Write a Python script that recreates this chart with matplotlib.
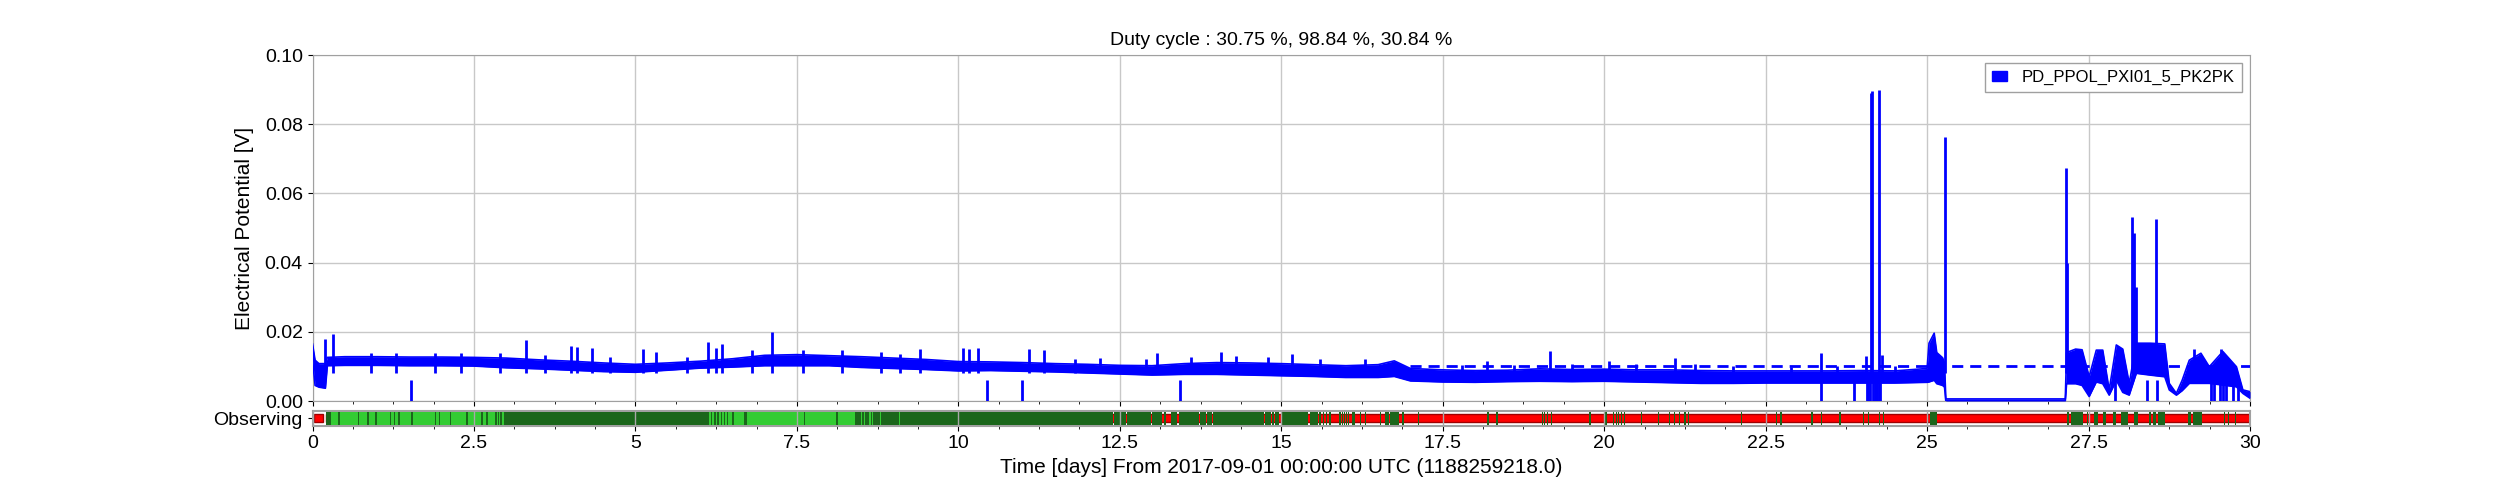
import matplotlib
matplotlib.use("Agg")
import matplotlib.pyplot as plt
from matplotlib.patches import Patch
from matplotlib.ticker import AutoMinorLocator, FuncFormatter

plt.rcParams['font.family'] = ['Liberation Sans', 'DejaVu Sans']

# ---------------- data ----------------
title = "Duty cycle : 30.75 %, 98.84 %, 30.84 %"
series_name = "PD_PPOL_PXI01_5_PK2PK"
xlabel = "Time [days] From 2017-09-01 00:00:00 UTC (1188259218.0)"
ylabel = "Electrical Potential [V]"
seg_label = "Observing"

# envelope of the dense trace (days, min, max)
band_t = [0.00, 0.04, 0.10, 0.20, 0.23, 0.5, 1.0, 1.5, 2.0, 2.5, 3.0, 3.5, 4.0, 4.5,
          5.0, 5.5, 6.0, 6.5, 7.0, 7.5, 8.0, 8.5, 9.0, 9.5, 10.0, 10.5, 11.0, 11.5,
          12.0, 12.5, 13.0, 13.5, 14.0, 14.5, 15.0, 15.5, 16.0, 16.5, 16.75, 17.0,
          17.5, 18.0, 18.5, 19.0, 19.5, 20.0, 20.5, 21.0, 21.5, 22.0, 22.5, 23.0,
          23.5, 24.0, 24.5, 25.0, 25.03, 25.11, 25.15, 25.24, 25.27, 25.29, 27.14,
          27.16, 27.3, 27.4, 27.51, 27.62, 27.72, 27.82, 27.93, 28.03, 28.13, 28.24,
          28.45, 28.68, 28.75, 28.86, 28.95, 29.06, 29.24, 29.37, 29.58, 29.79,
          29.89, 30.0]
band_lo = [0.0120, 0.0045, 0.0040, 0.0037, 0.0102, 0.0103, 0.0103, 0.0102, 0.0102,
           0.0101, 0.0096, 0.0093, 0.0089, 0.0085, 0.0083, 0.0089, 0.0095, 0.0098,
           0.0102, 0.0102, 0.0102, 0.0097, 0.0094, 0.0091, 0.0087, 0.0088, 0.0086,
           0.0084, 0.0081, 0.0078, 0.0075, 0.0077, 0.0077, 0.0075, 0.0073, 0.0071,
           0.0068, 0.0068, 0.0071, 0.0058, 0.0055, 0.0054, 0.0056, 0.0057, 0.0056,
           0.0057, 0.0055, 0.0053, 0.0051, 0.0051, 0.0052, 0.0052, 0.0052, 0.0052,
           0.0052, 0.0054, 0.0055, 0.0060, 0.0050, 0.0045, 0.0040, 0.0000, 0.0000,
           0.0050, 0.0050, 0.0045, 0.0013, 0.0055, 0.0050, 0.0017, 0.0060, 0.0025,
           0.0017, 0.0080, 0.0075, 0.0070, 0.0032, 0.0017, 0.0030, 0.0051, 0.0051,
           0.0051, 0.0046, 0.0041, 0.0022, 0.0008]
band_hi = [0.0165, 0.0118, 0.0108, 0.0108, 0.0126, 0.0128, 0.0128, 0.0127, 0.0127,
           0.0126, 0.0124, 0.0119, 0.0115, 0.0110, 0.0106, 0.0110, 0.0115, 0.0122,
           0.0132, 0.0134, 0.0131, 0.0128, 0.0124, 0.0120, 0.0114, 0.0113, 0.0111,
           0.0108, 0.0106, 0.0103, 0.0102, 0.0108, 0.0111, 0.0110, 0.0108, 0.0105,
           0.0102, 0.0105, 0.0116, 0.0094, 0.0090, 0.0088, 0.0089, 0.0093, 0.0091,
           0.0092, 0.0090, 0.0090, 0.0088, 0.0087, 0.0087, 0.0087, 0.0087, 0.0088,
           0.0087, 0.0094, 0.0167, 0.0196, 0.0140, 0.0125, 0.0110, 0.0006, 0.0006,
           0.0140, 0.0150, 0.0148, 0.0070, 0.0147, 0.0147, 0.0032, 0.0162, 0.0150,
           0.0051, 0.0167, 0.0167, 0.0165, 0.0051, 0.0022, 0.0060, 0.0118, 0.0138,
           0.0099, 0.0143, 0.0099, 0.0032, 0.0027]

# isolated upward glitches (days, peak value)
spike_t = [0.20, 0.31, 3.31, 4.00, 4.10, 4.32, 5.11, 5.32, 6.13, 6.25, 6.34, 7.11,
           9.40, 10.07, 10.17, 10.31, 11.10, 11.32, 13.08, 14.06, 15.16, 18.19,
           19.16, 20.07, 21.09, 23.36, 24.06, 24.13, 24.15, 24.26, 24.30, 25.27,
           27.15, 27.17, 28.18, 28.20, 28.23, 28.55, 29.13, 29.55,
           0.9, 1.3, 1.9, 2.3, 2.9, 3.6, 4.6, 5.8, 6.8, 7.6, 8.2, 8.8, 9.1, 11.8,
           12.2, 12.9, 13.6, 14.3, 14.8, 15.6, 16.3, 17.8, 18.6, 19.5, 20.5, 21.4,
           22.0, 22.9, 23.6, 24.5]
spike_v = [0.0180, 0.0193, 0.0177, 0.0158, 0.0157, 0.0154, 0.0151, 0.0142, 0.0171,
           0.0154, 0.0166, 0.0200, 0.0149, 0.0153, 0.0150, 0.0153, 0.0149, 0.0148,
           0.0139, 0.0142, 0.0137, 0.0117, 0.0145, 0.0115, 0.0124, 0.0140, 0.0130,
           0.0890, 0.0897, 0.0899, 0.0133, 0.0764, 0.0672, 0.0400, 0.0533, 0.0485,
           0.0330, 0.0525, 0.0150, 0.0150,
           0.0140, 0.0138, 0.0139, 0.0138, 0.0138, 0.0134, 0.0126, 0.0128, 0.0146,
           0.0148, 0.0146, 0.0143, 0.0137, 0.0122, 0.0124, 0.0121, 0.0127, 0.0130,
           0.0126, 0.0122, 0.0120, 0.0104, 0.0103, 0.0106, 0.0106, 0.0106, 0.0101,
           0.0099, 0.0100, 0.0101]
spike_base = 0.008

# downward dropouts to zero (days)
drop_t = [1.52, 10.45, 10.99, 13.43, 23.35, 23.87, 24.07, 24.09, 24.11, 24.17,
          24.19, 24.21, 24.23, 24.25, 24.27, 27.91, 28.40, 28.56, 29.40, 29.45,
          29.54, 29.58, 29.63, 29.74, 29.81]
drop_top = 0.006

threshold_value = 0.01
threshold_start = 17.0
threshold_end = 30.0

# state segments (days)
red_segs = [(0.03, 0.17), (0.21, 30.0)]
dark_segs = [(0.21, 12.39), (12.41, 12.59), (12.61, 12.98), (13.00, 13.16),
             (13.18, 13.22), (13.29, 13.39), (13.41, 13.72), (13.74, 13.83),
             (13.85, 13.93), (13.95, 14.73), (14.75, 14.84), (14.86, 14.89),
             (14.91, 14.97), (14.99, 15.42), (15.44, 15.57), (15.59, 15.61),
             (15.64, 15.66), (15.69, 15.71), (15.74, 15.77),
             (15.89, 15.92), (15.94, 15.95), (15.97, 15.98), (16.01, 16.02),
             (16.04, 16.05), (16.09, 16.14), (16.17, 16.18), (16.22, 16.23),
             (16.26, 16.27), (16.29, 16.32), (16.53, 16.55), (16.60, 16.67),
             (16.69, 16.83), (16.87, 16.90), (17.12, 17.14), (18.19, 18.21),
             (18.33, 18.35), (19.03, 19.05), (19.07, 19.09), (19.11, 19.13),
             (19.17, 19.19), (19.77, 19.79), (20.02, 20.04), (20.13, 20.15),
             (20.18, 20.20), (20.21, 20.23), (20.26, 20.28), (20.31, 20.33),
             (20.57, 20.59), (20.83, 20.85), (21.00, 21.02), (21.08, 21.10),
             (21.16, 21.18), (21.24, 21.26), (21.30, 21.32), (22.12, 22.14),
             (22.66, 22.68), (22.73, 22.75), (23.21, 23.23), (23.36, 23.38),
             (23.64, 23.66), (24.00, 24.02), (24.08, 24.10), (24.25, 24.27),
             (24.31, 24.33), (25.05, 25.16), (25.18, 25.19), (25.21, 25.22),
             (25.24, 25.25), (25.27, 25.28), (27.17, 27.19), (27.23, 27.41),
             (27.47, 27.49), (27.59, 27.65), (27.72, 27.77), (27.88, 27.93),
             (28.01, 28.11), (28.20, 28.26), (28.44, 28.46), (28.50, 28.55),
             (28.57, 28.68), (29.04, 29.09), (29.12, 29.25), (29.60, 29.62),
             (29.66, 29.68), (29.76, 29.78)]
light_segs = [(0.29, 0.39), (0.42, 0.70), (0.72, 0.76), (0.77, 0.85), (0.88, 0.97),
              (1.00, 1.10), (1.11, 1.15), (1.16, 1.20), (1.21, 1.26), (1.27, 1.33),
              (1.35, 1.52), (1.55, 1.89), (1.91, 1.96), (1.98, 2.13), (2.14, 2.38),
              (2.40, 2.61), (2.64, 2.69), (2.71, 2.82), (2.85, 2.87), (2.89, 2.91),
              (2.93, 2.96), (6.14, 6.17), (6.19, 6.22), (6.24, 6.27), (6.29, 6.32),
              (6.34, 6.37), (6.39, 6.42), (6.44, 6.50), (6.52, 6.68), (6.72, 7.61),
              (7.63, 8.11), (8.14, 8.40), (8.49, 8.51), (8.54, 8.56), (8.62, 8.64),
              (8.66, 8.68), (8.78, 8.80), (9.08, 9.10)]

x_ticks = [0, 2.5, 5, 7.5, 10, 12.5, 15, 17.5, 20, 22.5, 25, 27.5, 30]
x_tick_labels = ["0", "2.5", "5", "7.5", "10", "12.5", "15", "17.5", "20",
                 "22.5", "25", "27.5", "30"]
y_ticks = [0.00, 0.02, 0.04, 0.06, 0.08, 0.10]

# ---------------- styling ----------------
BLUE = "#0000ff"
LIGHT_G = "#33cc33"
DARK_G = "#1b661b"
RED = "#ff0000"
SPINE = "#a0a0a0"
GRID = "#c8c8c8"

fig = plt.figure(figsize=(25, 5), dpi=100)
ax = fig.add_axes([0.125, 0.198, 0.775, 0.692])
sax = fig.add_axes([0.125, 0.149, 0.775, 0.029])

# main trace
ax.fill_between(band_t, band_lo, band_hi, color=BLUE, lw=0, zorder=3)
ax.plot(band_t, band_lo, color=BLUE, lw=1.2, zorder=3)
ax.plot(band_t, band_hi, color=BLUE, lw=1.2, zorder=3)
ax.vlines(spike_t, spike_base, spike_v, color=BLUE, lw=2, zorder=3)
ax.vlines(drop_t, 0, drop_top, color=BLUE, lw=2, zorder=3)
ax.hlines(threshold_value, threshold_start, threshold_end, color=BLUE, lw=2,
          linestyles=(0, (4, 2.5)), zorder=3)

ax.set_xlim(0, 30)
ax.set_ylim(0, 0.1)
ax.set_xticks(x_ticks)
ax.xaxis.set_minor_locator(AutoMinorLocator(4))
ax.set_yticks(y_ticks)
ax.yaxis.set_major_formatter(FuncFormatter(lambda v, p: f"{v:.2f}"))
ax.tick_params(axis='x', which='both', labelbottom=False)
ax.tick_params(axis='both', labelsize=14, color='black')
ax.grid(True, which='major', color=GRID, lw=1)
ax.set_axisbelow(True)
for s in ax.spines.values():
    s.set_color(SPINE)
ax.set_ylabel(ylabel, fontsize=15, labelpad=8)
ax.set_title(title, fontsize=14, pad=7)

leg = ax.legend(handles=[Patch(facecolor=BLUE, edgecolor=BLUE, label=series_name)],
                loc='upper right', fontsize=12, fancybox=False, framealpha=1,
                edgecolor=SPINE, handlelength=0.9, handleheight=0.5,
                handletextpad=0.9, borderaxespad=0.5)
leg.get_frame().set_linewidth(1)

# segment bar
for a, b in red_segs:
    sax.add_patch(plt.Rectangle((a, 0.22), b - a, 0.56, facecolor=RED,
                                edgecolor="#a00000", lw=1, zorder=2))
for a, b in dark_segs:
    sax.add_patch(plt.Rectangle((a, 0.05), b - a, 0.9, facecolor=DARK_G,
                                edgecolor='none', lw=0, zorder=3))
for a, b in light_segs:
    sax.add_patch(plt.Rectangle((a, 0.05), b - a, 0.9, facecolor=LIGHT_G,
                                edgecolor='none', lw=0, zorder=4))
for xt in x_ticks:
    sax.axvline(xt, color="#a8a8a8", lw=1, zorder=5)
sax.set_xlim(0, 30)
sax.set_ylim(0, 1)
sax.set_yticks([0.5])
sax.set_yticklabels([seg_label])
sax.set_xticks(x_ticks)
sax.set_xticklabels(x_tick_labels)
sax.xaxis.set_minor_locator(AutoMinorLocator(4))
sax.tick_params(axis='both', labelsize=14)
for s in sax.spines.values():
    s.set_color(SPINE)
    s.set_linewidth(1.5)
sax.set_xlabel(xlabel, fontsize=15, labelpad=4)

fig.savefig("out.png", dpi=100)
